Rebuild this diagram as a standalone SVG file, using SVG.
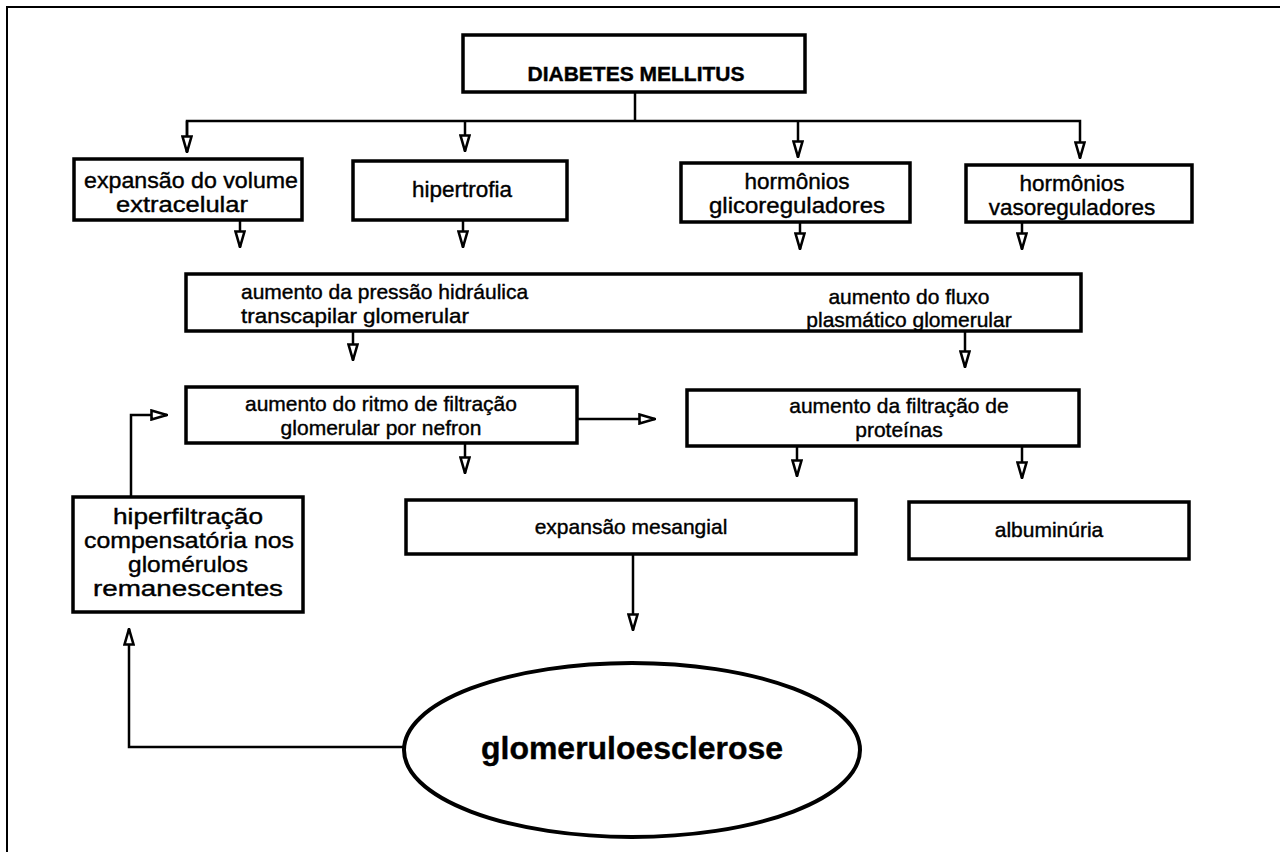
<svg xmlns="http://www.w3.org/2000/svg" width="1280" height="852" viewBox="0 0 1280 852">
<defs>
<style>
.box{fill:#fff;stroke:#000;stroke-width:3.5}
.t{font-family:"Liberation Sans",Arial,sans-serif;font-size:21px;fill:#000;stroke:#000;stroke-width:0.4;text-anchor:middle}
.big{font-size:22.5px}
.l{text-anchor:start}
.c{stroke:#000;stroke-width:2.5;fill:none}
</style>
<marker id="arr" viewBox="0 0 18 12" refX="17" refY="6" markerWidth="18" markerHeight="12" markerUnits="userSpaceOnUse" orient="auto">
<path d="M1.5,1.5 L17,6 L1.5,10.5 Z" fill="#fff" stroke="#000" stroke-width="2.6" stroke-linejoin="miter"/>
</marker>
</defs>
<rect width="1280" height="852" fill="#fff"/>
<path d="M7,852 V7 H1280" fill="none" stroke="#000" stroke-width="2"/>

<g id="connectors" class="c">
<path d="M635,92 V121"/>
<path d="M187,152 V121 H1080 V158" marker-end="url(#arr)"/>
<path d="M187,121 V152" marker-end="url(#arr)"/>
<path d="M465,121 V151" marker-end="url(#arr)"/>
<path d="M798,121 V157" marker-end="url(#arr)"/>
<path d="M240,220 V247" marker-end="url(#arr)"/>
<path d="M463,220 V247" marker-end="url(#arr)"/>
<path d="M800,222 V249" marker-end="url(#arr)"/>
<path d="M1022,222 V249" marker-end="url(#arr)"/>
<path d="M353,331 V360" marker-end="url(#arr)"/>
<path d="M965,332 V367" marker-end="url(#arr)"/>
<path d="M577,419 H655" marker-end="url(#arr)"/>
<path d="M465,443 V473" marker-end="url(#arr)"/>
<path d="M797,446 V476" marker-end="url(#arr)"/>
<path d="M1022,446 V478" marker-end="url(#arr)"/>
<path d="M633,554 V630" marker-end="url(#arr)"/>
<path d="M131,497 V415 H167" marker-end="url(#arr)"/>
<path d="M404,747 H129 V629" marker-end="url(#arr)"/>
</g>

<g id="diabetes">
<rect class="box" x="463" y="35" width="342" height="57"/>
<text class="t" x="636" y="81" style="font-weight:bold;font-size:21px">DIABETES MELLITUS</text>
</g>

<g id="expansao-volume">
<rect class="box" x="74" y="159" width="228" height="61"/>
<text class="t big" x="191" y="188" textLength="214" lengthAdjust="spacingAndGlyphs">expansão do volume</text>
<text class="t big" x="182" y="212" textLength="132" lengthAdjust="spacingAndGlyphs">extracelular</text>
</g>

<g id="hipertrofia">
<rect class="box" x="353" y="161" width="214" height="59"/>
<text class="t big" x="462" y="197">hipertrofia</text>
</g>

<g id="glicoreguladores">
<rect class="box" x="681" y="163" width="229" height="59"/>
<text class="t big" x="797" y="189">hormônios</text>
<text class="t big" x="797" y="213" textLength="176" lengthAdjust="spacingAndGlyphs">glicoreguladores</text>
</g>

<g id="vasoreguladores">
<rect class="box" x="966" y="165" width="226" height="57"/>
<text class="t big" x="1072" y="191">hormônios</text>
<text class="t big" x="1072" y="215">vasoreguladores</text>
</g>

<g id="pressao-fluxo">
<rect class="box" x="186" y="274" width="895" height="57"/>
<text class="t l" x="241" y="299">aumento da pressão hidráulica</text>
<text class="t l" x="241" y="323" textLength="228" lengthAdjust="spacingAndGlyphs">transcapilar glomerular</text>
<text class="t" x="909" y="304">aumento do fluxo</text>
<text class="t" x="909" y="327">plasmático glomerular</text>
</g>

<g id="ritmo">
<rect class="box" x="186" y="387" width="391" height="56"/>
<text class="t" x="381" y="411">aumento do ritmo de filtração</text>
<text class="t" x="381" y="435">glomerular por nefron</text>
</g>

<g id="proteinas">
<rect class="box" x="687" y="390" width="392" height="56"/>
<text class="t" x="899" y="413">aumento da filtração de</text>
<text class="t" x="899" y="437">proteínas</text>
</g>

<g id="mesangial">
<rect class="box" x="406" y="500" width="450" height="54"/>
<text class="t" x="631" y="534">expansão mesangial</text>
</g>

<g id="albuminuria">
<rect class="box" x="909" y="502" width="280" height="57"/>
<text class="t" x="1049" y="537">albuminúria</text>
</g>

<g id="hiperfiltracao">
<rect class="box" x="73" y="497" width="230" height="115"/>
<text class="t big" x="188" y="524" textLength="150" lengthAdjust="spacingAndGlyphs">hiperfiltração</text>
<text class="t big" x="189" y="548" textLength="210" lengthAdjust="spacingAndGlyphs">compensatória nos</text>
<text class="t big" x="188" y="572" textLength="120" lengthAdjust="spacingAndGlyphs">glomérulos</text>
<text class="t big" x="188" y="596" textLength="190" lengthAdjust="spacingAndGlyphs">remanescentes</text>
</g>

<g id="glomeruloesclerose">
<ellipse cx="632" cy="750" rx="228" ry="87" fill="#fff" stroke="#000" stroke-width="4"/>
<text class="t" x="632" y="759" style="font-weight:bold;font-size:32px" textLength="302" lengthAdjust="spacingAndGlyphs">glomeruloesclerose</text>
</g>
</svg>
